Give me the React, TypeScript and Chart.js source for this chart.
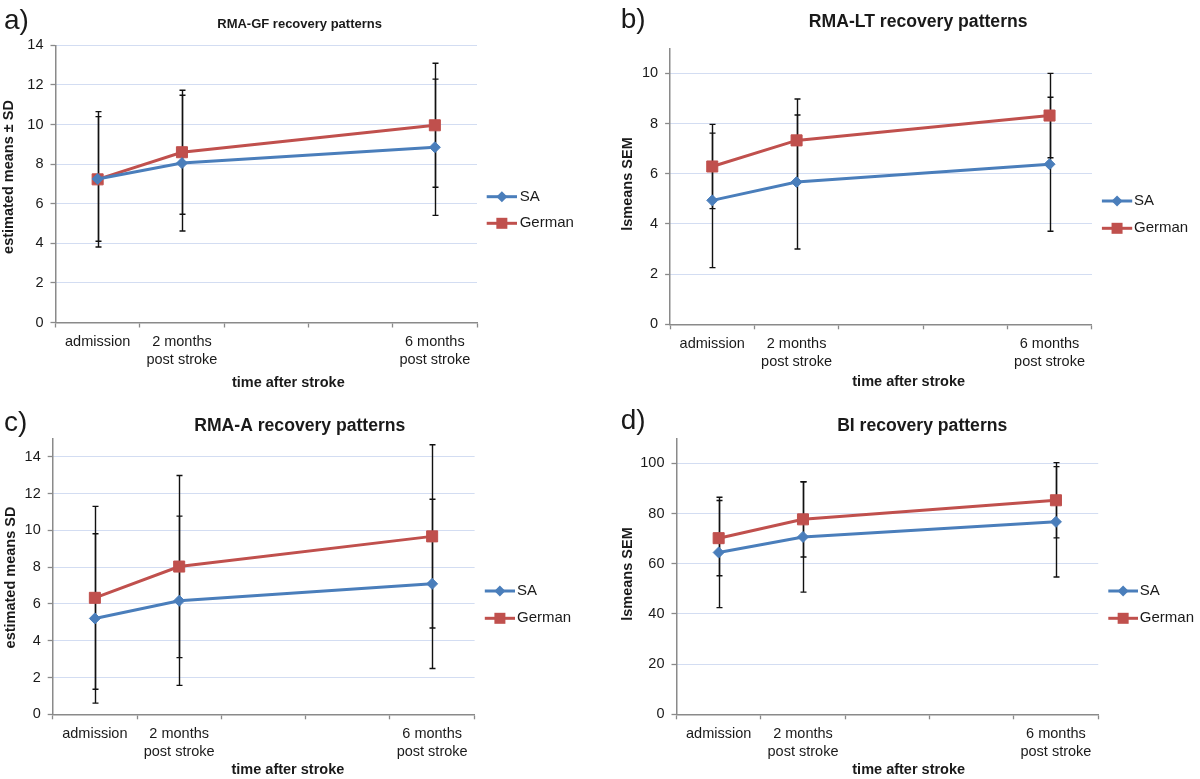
import React, { useEffect, useRef } from "react";
import { Chart, registerables } from "chart.js";

Chart.register(...registerables);

const FONT = '"Liberation Sans", Arial, Helvetica, sans-serif';

// Shared categories (x positions on a 5-slot category axis)
const categories: (string | string[])[] = [
  "admission",
  ["2 months", "post stroke"],
  "",
  "",
  ["6 months", "post stroke"],
];
const seriesNames = ["SA", "German"];
const xAxisTitle = "time after stroke";

// a) RMA-GF
const gfSA = [7.25, 8.05, null, null, 8.85];
const gfSAErr = [3.15, 3.43, null, null, 3.44];
const gfGerman = [7.23, 8.6, null, null, 9.96];
const gfGermanErr = [3.42, 3.13, null, null, 3.13];

// b) RMA-LT
const ltSA = [4.94, 5.67, null, null, 6.38];
const ltSAErr = [2.68, 2.67, null, null, 2.67];
const ltGerman = [6.29, 7.33, null, null, 8.32];
const ltGermanErr = [1.68, 1.65, null, null, 1.68];

// c) RMA-A
const aSA = [5.21, 6.17, null, null, 7.09];
const aSAErr = [4.6, 4.6, null, null, 4.6];
const aGerman = [6.33, 8.03, null, null, 9.67];
const aGermanErr = [4.97, 4.95, null, null, 4.98];

// d) BI
const biSA = [64.5, 70.7, null, null, 76.7];
const biSAErr = [22, 22, null, null, 22];
const biGerman = [70.2, 77.7, null, null, 85.3];
const biGermanErr = [15, 15, null, null, 15];

// axis ranges
const yMaxes = [14, 11, 15, 110];
const ySteps = [2, 2, 2, 20];

const SA_COLOR = "#4a7ebb";
const DE_COLOR = "#c0504d";
const GRID_COLOR = "rgba(150,175,225,0.85)";
const AXIS_COLOR = "#8a8a8a";
const TEXT_COLOR = "#1a1a1a";

type Panel = {
  left: number; top: number; w: number; h: number;
  area: { l: number; r: number; t: number; b: number };
  letter: string; letterX: number; letterY: number;
  title: string; titleSize: number; titleX: number; titleY: number;
  yTitle: string; yTitleX: number; yTitleY: number;
  xTitleX: number; xTitleY: number;
  legX1: number; legX2: number; legTX: number; legY1: number; legY2: number;
  yMax: number; yStep: number;
  sa: (number | null)[]; saErr: (number | null)[];
  de: (number | null)[]; deErr: (number | null)[];
};

const panels: Panel[] = [
  {
    left: 0, top: 0, w: 600, h: 390,
    area: { l: 55.5, r: 477, t: 45.3, b: 322.5 },
    letter: "a)", letterX: 4, letterY: 29,
    title: "RMA-GF recovery patterns", titleSize: 13, titleX: 299.6, titleY: 24.3,
    yTitle: "estimated means ± SD", yTitleX: 9, yTitleY: 177,
    xTitleX: 288.3, xTitleY: 382.7,
    legX1: 486.7, legX2: 517, legTX: 519.7, legY1: 196.7, legY2: 223.3,
    yMax: yMaxes[0], yStep: ySteps[0],
    sa: gfSA, saErr: gfSAErr, de: gfGerman, deErr: gfGermanErr,
  },
  {
    left: 600, top: 0, w: 600, h: 390,
    area: { l: 70.1, r: 491.7, t: 48.3, b: 324.3 },
    letter: "b)", letterX: 20.8, letterY: 28.3,
    title: "RMA-LT recovery patterns", titleSize: 17.6, titleX: 318.2, titleY: 21.7,
    yTitle: "lsmeans SEM", yTitleX: 28.4, yTitleY: 184,
    xTitleX: 308.7, xTitleY: 381.7,
    legX1: 501.9, legX2: 532.2, legTX: 534, legY1: 201, legY2: 228.3,
    yMax: yMaxes[1], yStep: ySteps[1],
    sa: ltSA, saErr: ltSAErr, de: ltGerman, deErr: ltGermanErr,
  },
  {
    left: 0, top: 390, w: 600, h: 389,
    area: { l: 52.7, r: 474.3, t: 48.3, b: 324.3 },
    letter: "c)", letterX: 4, letterY: 40.5,
    title: "RMA-A recovery patterns", titleSize: 17.6, titleX: 299.8, titleY: 36,
    yTitle: "estimated means SD", yTitleX: 11.4, yTitleY: 187.5,
    xTitleX: 287.9, xTitleY: 380,
    legX1: 484.8, legX2: 515, legTX: 517, legY1: 201, legY2: 228.3,
    yMax: yMaxes[2], yStep: ySteps[2],
    sa: aSA, saErr: aSAErr, de: aGerman, deErr: aGermanErr,
  },
  {
    left: 600, top: 390, w: 600, h: 389,
    area: { l: 76.5, r: 498.1, t: 48.3, b: 324.3 },
    letter: "d)", letterX: 20.8, letterY: 39,
    title: "BI recovery patterns", titleSize: 17.6, titleX: 322.2, titleY: 36,
    yTitle: "lsmeans SEM", yTitleX: 28.4, yTitleY: 184,
    xTitleX: 308.7, xTitleY: 380,
    legX1: 508.3, legX2: 538, legTX: 539.8, legY1: 201, legY2: 228.3,
    yMax: yMaxes[3], yStep: ySteps[3],
    sa: biSA, saErr: biSAErr, de: biGerman, deErr: biGermanErr,
  },
];

function drawDiamond(ctx: CanvasRenderingContext2D, x: number, y: number, r: number, color: string) {
  ctx.beginPath();
  ctx.moveTo(x - r, y);
  ctx.lineTo(x, y - r);
  ctx.lineTo(x + r, y);
  ctx.lineTo(x, y + r);
  ctx.closePath();
  ctx.fillStyle = color;
  ctx.fill();
}

function drawSquare(ctx: CanvasRenderingContext2D, x: number, y: number, half: number, color: string) {
  ctx.fillStyle = color;
  ctx.fillRect(x - half, y - half, half * 2, half * 2);
}

function makeDecor(p: Panel) {
  return {
    id: "decor",
    beforeDatasetsDraw(chart: any) {
      const ctx: CanvasRenderingContext2D = chart.ctx;
      const xS = chart.scales.x;
      const yS = chart.scales.y;
      ctx.save();
      ctx.strokeStyle = "#111";
      ctx.lineWidth = 1.4;
      const sets: [(number | null)[], (number | null)[]][] = [
        [p.sa, p.saErr],
        [p.de, p.deErr],
      ];
      sets.forEach(([vals, errs]) => {
        vals.forEach((v, i) => {
          const e = errs[i];
          if (v == null || e == null) return;
          const x = Math.round(xS.getPixelForValue(i)) + 0.5;
          const yt = yS.getPixelForValue(v + e);
          const yb = yS.getPixelForValue(v - e);
          ctx.beginPath();
          ctx.moveTo(x, yt);
          ctx.lineTo(x, yb);
          ctx.moveTo(x - 3, yt);
          ctx.lineTo(x + 3, yt);
          ctx.moveTo(x - 3, yb);
          ctx.lineTo(x + 3, yb);
          ctx.stroke();
        });
      });
      ctx.restore();
    },
    afterDraw(chart: any) {
      const ctx: CanvasRenderingContext2D = chart.ctx;
      ctx.save();
      ctx.fillStyle = TEXT_COLOR;
      // panel letter
      ctx.font = `28px ${FONT}`;
      ctx.textAlign = "left";
      ctx.textBaseline = "alphabetic";
      ctx.fillText(p.letter, p.letterX, p.letterY);
      // title
      ctx.font = `bold ${p.titleSize}px ${FONT}`;
      ctx.textAlign = "center";
      ctx.textBaseline = "middle";
      ctx.fillText(p.title, p.titleX, p.titleY);
      // x axis title
      ctx.font = `bold 14.5px ${FONT}`;
      ctx.fillText(xAxisTitle, p.xTitleX, p.xTitleY);
      // y axis title
      ctx.save();
      ctx.translate(p.yTitleX, p.yTitleY);
      ctx.rotate(-Math.PI / 2);
      ctx.fillText(p.yTitle, 0, 0);
      ctx.restore();
      // legend
      const items = [
        { name: seriesNames[0], color: SA_COLOR, y: p.legY1, kind: "d" },
        { name: seriesNames[1], color: DE_COLOR, y: p.legY2, kind: "s" },
      ];
      items.forEach((it) => {
        ctx.strokeStyle = it.color;
        ctx.lineWidth = 3;
        ctx.beginPath();
        ctx.moveTo(p.legX1, it.y);
        ctx.lineTo(p.legX2, it.y);
        ctx.stroke();
        const cx = (p.legX1 + p.legX2) / 2;
        if (it.kind === "d") drawDiamond(ctx, cx, it.y, 5.5, it.color);
        else drawSquare(ctx, cx, it.y, 5.5, it.color);
        ctx.fillStyle = TEXT_COLOR;
        ctx.font = `15px ${FONT}`;
        ctx.textAlign = "left";
        ctx.textBaseline = "middle";
        ctx.fillText(it.name, p.legTX, it.y);
      });
      ctx.restore();
    },
  };
}

function PanelChart({ p }: { p: Panel }) {
  const ref = useRef<HTMLCanvasElement | null>(null);
  useEffect(() => {
    if (!ref.current) return;
    const chart = new Chart(ref.current, {
      type: "line",
      data: {
        labels: categories as any,
        datasets: [
          {
            label: seriesNames[0],
            data: p.sa as any,
            borderColor: SA_COLOR,
            backgroundColor: SA_COLOR,
            borderWidth: 3,
            pointStyle: "rectRot",
            pointRadius: 5.5,
            pointBorderWidth: 1,
            pointBackgroundColor: SA_COLOR,
            pointBorderColor: SA_COLOR,
            spanGaps: true,
            tension: 0,
          },
          {
            label: seriesNames[1],
            data: p.de as any,
            borderColor: DE_COLOR,
            backgroundColor: DE_COLOR,
            borderWidth: 3,
            pointStyle: "rect",
            pointRadius: 7.8,
            pointBorderWidth: 1,
            pointBackgroundColor: DE_COLOR,
            pointBorderColor: DE_COLOR,
            spanGaps: true,
            tension: 0,
          },
        ],
      },
      options: {
        animation: false,
        responsive: false,
        devicePixelRatio: 1,
        layout: {
          padding: { left: 0, right: p.w - p.area.r, top: p.area.t, bottom: 0 },
        },
        plugins: {
          legend: { display: false },
          title: { display: false },
          tooltip: { enabled: false },
        },
        scales: {
          x: {
            type: "category",
            offset: true,
            afterFit: (s: any) => {
              s.height = p.h - p.area.b;
            },
            grid: {
              display: true,
              offset: true,
              drawOnChartArea: false,
              drawTicks: true,
              tickLength: 5,
              color: AXIS_COLOR,
              tickColor: AXIS_COLOR,
              tickWidth: 1.3,
            },
            border: { display: true, color: AXIS_COLOR, width: 1.5 },
            ticks: {
              autoSkip: false,
              maxRotation: 0,
              minRotation: 0,
              padding: 5.5,
              color: TEXT_COLOR,
              font: { family: FONT, size: 14.5, lineHeight: 1.24 },
            },
          },
          y: {
            type: "linear",
            min: 0,
            max: p.yMax,
            afterFit: (s: any) => {
              s.width = p.area.l;
            },
            grid: {
              display: true,
              drawOnChartArea: true,
              drawTicks: true,
              tickLength: 5,
              color: (c: any) => (c.tick && c.tick.value === 0 ? "rgba(0,0,0,0)" : GRID_COLOR),
              lineWidth: 1,
              tickColor: AXIS_COLOR,
              tickWidth: 1.3,
              tickBorderDash: [],
            },
            border: {
              display: true,
              color: AXIS_COLOR,
              width: 1.5,
              dash: (c: any) => (c.type === "tick" ? [1, 1] : []),
            },
            ticks: {
              stepSize: p.yStep,
              includeBounds: false,
              padding: 7,
              color: TEXT_COLOR,
              font: { family: FONT, size: 14.5 },
            },
          },
        },
      },
      plugins: [makeDecor(p)],
    } as any);
    return () => chart.destroy();
  }, [p]);
  return (
    <canvas
      ref={ref}
      width={p.w}
      height={p.h}
      style={{ position: "absolute", left: p.left, top: p.top, width: p.w, height: p.h }}
    />
  );
}

export default function App() {
  return (
    <div
      style={{
        position: "absolute",
        left: 0,
        top: 0,
        width: 1200,
        height: 779,
        background: "#ffffff",
        overflow: "hidden",
      }}
    >
      {panels.map((p, i) => (
        <PanelChart key={i} p={p} />
      ))}
    </div>
  );
}
